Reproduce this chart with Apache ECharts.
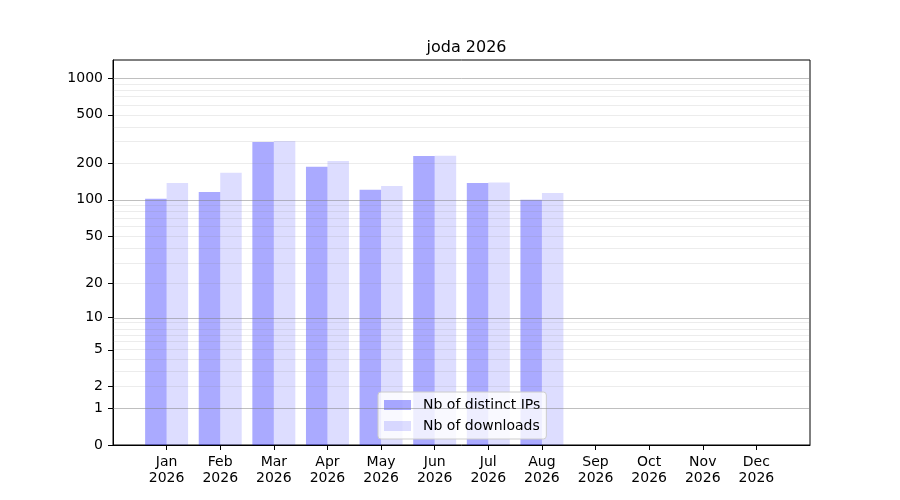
<!DOCTYPE html>
<html>
<head>
<meta charset="utf-8">
<script src="https://cdn.jsdelivr.net/npm/echarts@6/dist/echarts.min.js"></script>
<style>html,body{margin:0;padding:0;background:#fff}#c{width:900px;height:500px}</style>
</head>
<body>
<div id="c"></div>
<script>
var titleText = 'joda 2026';
var months = ['Jan','Feb','Mar','Apr','May','Jun','Jul','Aug','Sep','Oct','Nov','Dec'];
var year = '2026';
var distinctIPs = [102, 116, 299, 187, 121, 230, 138, 100, 0, 0, 0, 0];
var downloads   = [138, 167, 305, 209, 130, 231, 139, 114, 0, 0, 0, 0];
var yTickLabels = [0, 1, 2, 5, 10, 20, 50, 100, 200, 500, 1000];
var majorGrid = [1, 10, 100, 1000];
var minorGrid = [2,3,4,5,6,7,8,9,20,30,40,50,60,70,80,90,200,300,400,500,600,700,800,900];
var yMaxValue = 1404;

function tf(v){ return Math.log10(v + 1); }
function inv(t){ return Math.pow(10, t) - 1; }

var cats = [''].concat(months.map(function(m){ return m + '\n' + year; })).concat(['']);
function pad(arr){ return [null].concat(arr.map(tf)).concat([null]); }

var font = 'DejaVu Sans';
var chart = echarts.init(document.getElementById('c'));
chart.setOption({
  animation: false,
  title: {
    text: titleText, left: 461.5, top: 35, textAlign: 'center',
    textStyle: {fontFamily: font, fontSize: 16, fontWeight: 'normal', color: '#000'}
  },
  grid: {left: 113, right: 90, top: 60, bottom: 55, show: true, borderColor: '#000', borderWidth: 1, containLabel: false},
  legend: {
    orient: 'vertical', left: 378, top: 392,
    data: ['Nb of distinct IPs', 'Nb of downloads'],
    icon: 'rect', itemWidth: 27, itemHeight: 10, itemGap: 7,
    padding: [6, 6, 6, 6],
    backgroundColor: 'rgba(255,255,255,0.8)', borderColor: '#cccccc', borderWidth: 1, borderRadius: 3,
    textStyle: {fontFamily: font, fontSize: 14, color: '#000', padding: [0, 0, 0, 7]}
  },
  xAxis: {
    type: 'category', data: cats, boundaryGap: false,
    axisLine: {lineStyle: {color: '#000', width: 1}},
    axisTick: {length: 5, lineStyle: {color: '#000'}, interval: function(i){ return i > 0 && i < cats.length - 1; }},
    axisLabel: {interval: 0, margin: 8, fontFamily: font, fontSize: 14, color: '#000', lineHeight: 16, padding: [1, 0, 0, 0]},
    splitLine: {show: false}
  },
  yAxis: {
    type: 'value', min: 0, max: tf(yMaxValue),
    axisLine: {show: true, lineStyle: {color: '#000', width: 1}},
    axisTick: {show: true, length: 5, lineStyle: {color: '#000'}, customValues: yTickLabels.map(tf)},
    axisLabel: {
      margin: 10, fontFamily: font, fontSize: 14, color: '#000', padding: [2, 0, 0, 0],
      customValues: yTickLabels.map(tf),
      formatter: function(v){ return String(Math.round(inv(v))); }
    },
    splitLine: {show: false}
  },
  series: [
    {
      name: 'Nb of distinct IPs', type: 'bar', data: pad(distinctIPs),
      barWidth: 21.5, barGap: '0%',
      itemStyle: {color: 'rgba(0,0,255,0.333)'}, z: 2
    },
    {
      name: 'Nb of downloads', type: 'bar', data: pad(downloads),
      barWidth: 21.5, barGap: '0%',
      itemStyle: {color: 'rgba(0,0,255,0.133)'}, z: 2
    },
    {
      name: 'grid', type: 'line', data: cats.map(function(){ return null; }), showSymbol: false, silent: true, z: 3,
      markLine: {
        silent: true, symbol: ['none', 'none'], label: {show: false}, animation: false,
        data: majorGrid.map(function(v){ return {yAxis: tf(v), lineStyle: {color: 'rgba(128,128,128,0.5)', width: 1, type: 'solid'}}; })
          .concat(minorGrid.map(function(v){ return {yAxis: tf(v), lineStyle: {color: 'rgba(128,128,128,0.15)', width: 1, type: 'solid'}}; }))
      }
    }
  ]
});
</script>
</body>
</html>
